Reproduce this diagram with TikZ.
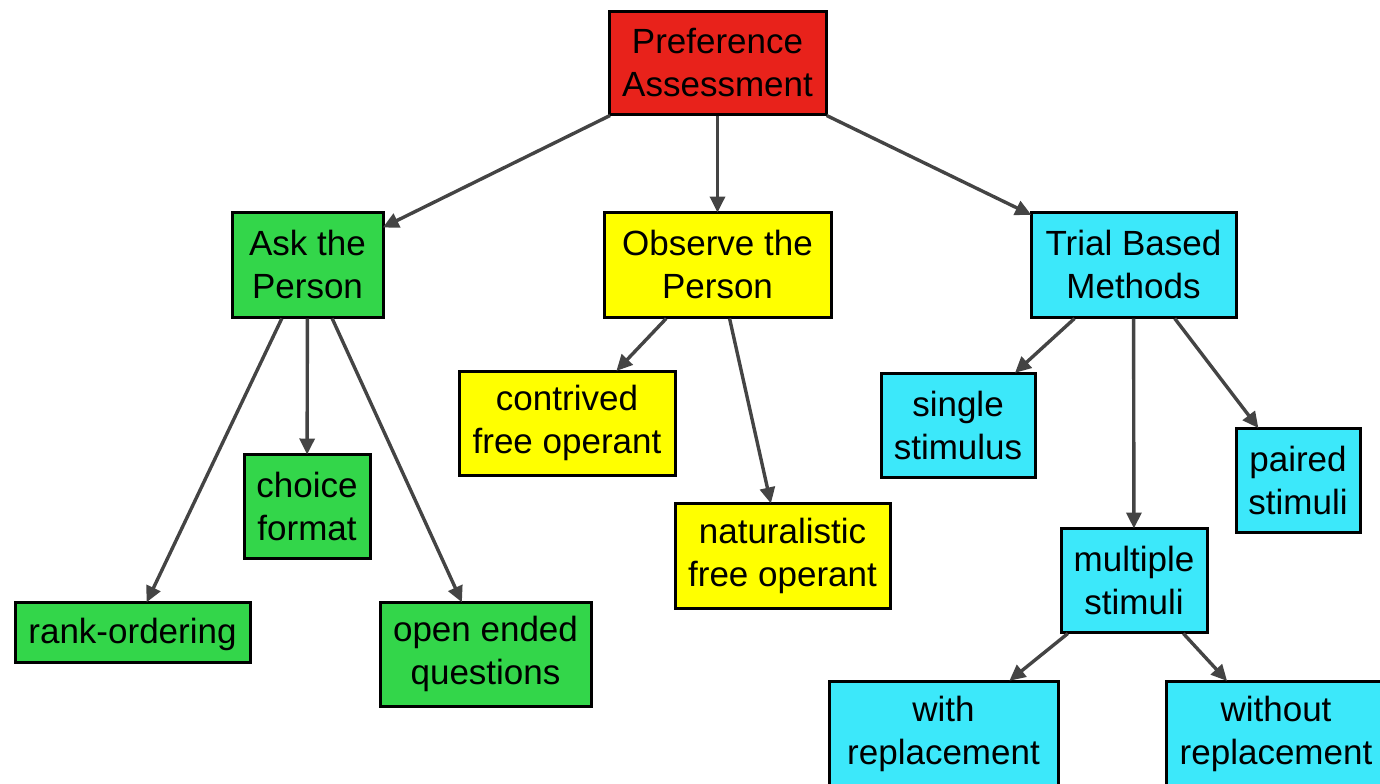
\documentclass[tikz,border=0pt]{standalone}
\usepackage{fontspec}
\setmainfont{Liberation Sans}
\usetikzlibrary{arrows.meta}
\definecolor{rootred}{HTML}{E8221B}
\definecolor{askgreen}{HTML}{33D64A}
\definecolor{obsyellow}{HTML}{FFFF00}
\definecolor{trialcyan}{HTML}{3CE8FA}
\definecolor{linkgrey}{HTML}{444444}
\tikzset{
  box/.style={draw=black, line width=1.5pt, rectangle, inner sep=0pt, align=center,
    font=\fontsize{17.5pt}{21.5pt}\selectfont,
    execute at begin node={\rule{0pt}{15pt}}},
  rootbox/.style={box, fill=rootred},
  askbox/.style={box, fill=askgreen},
  obsbox/.style={box, fill=obsyellow},
  trialbox/.style={box, fill=trialcyan},
  link/.style={draw=linkgrey, line width=1.7pt,
    -{Triangle[length=8pt,width=7.5pt]}, shorten >=-1pt}
}
\begin{document}
\begin{tikzpicture}[x=0.5pt, y=-0.5pt]
\useasboundingbox (0,0) rectangle (1380,783);

% top level
\node[rootbox, minimum width=108.5pt, minimum height=51.5pt] (root) at (717.5,62.5) {Preference\\Assessment};

% second level
\node[askbox, minimum width=75.5pt, minimum height=52.5pt] (ask) at (307.5,264.5) {Ask the\\Person};
\node[obsbox, minimum width=113.5pt, minimum height=52.5pt] (obs) at (717.5,264.5) {Observe the\\Person};
\node[trialbox, minimum width=102.5pt, minimum height=52.5pt] (trial) at (1133.5,264.5) {Trial Based\\Methods};

% ask the person
\node[askbox, minimum width=117.5pt, minimum height=30pt] (rank) at (132.5,632) {rank-ordering};
\node[askbox, minimum width=63pt, minimum height=52pt] (choice) at (307,506) {choice\\format};
\node[askbox, minimum width=105.5pt, minimum height=52pt] (open) at (485.5,654) {open ended\\questions};

% observe the person
\node[obsbox, minimum width=108pt, minimum height=52pt] (contrived) at (567,423) {contrived\\free operant};
\node[obsbox, minimum width=107.5pt, minimum height=52.5pt] (natural) at (782.5,555.5) {naturalistic\\free operant};

% trial based methods
\node[trialbox, minimum width=77pt, minimum height=52pt] (single) at (958,425) {single\\stimulus};
\node[trialbox, minimum width=62pt, minimum height=52pt] (paired) at (1298,480) {paired\\stimuli};
\node[trialbox, minimum width=73pt, minimum height=52pt] (multiple) at (1134,580) {multiple\\stimuli};
\node[trialbox, minimum width=114.5pt, minimum height=53pt] (with) at (943.5,734) {with\\replacement};
\node[trialbox, minimum width=110pt, minimum height=53pt] (without) at (1276,734) {without\\replacement};

% connectors
\draw[link] (root) -- (ask);
\draw[link] (root) -- (obs);
\draw[link] (root) -- (trial);
\draw[link] (ask) -- (rank);
\draw[link] (ask) -- (choice);
\draw[link] (ask) -- (open);
\draw[link] (obs) -- (contrived);
\draw[link] (obs) -- (natural);
\draw[link] (trial) -- (single);
\draw[link] (trial) -- (multiple);
\draw[link] (trial) -- (paired);
\draw[link] (multiple) -- (with);
\draw[link] (multiple) -- (without);
\end{tikzpicture}
\end{document}
